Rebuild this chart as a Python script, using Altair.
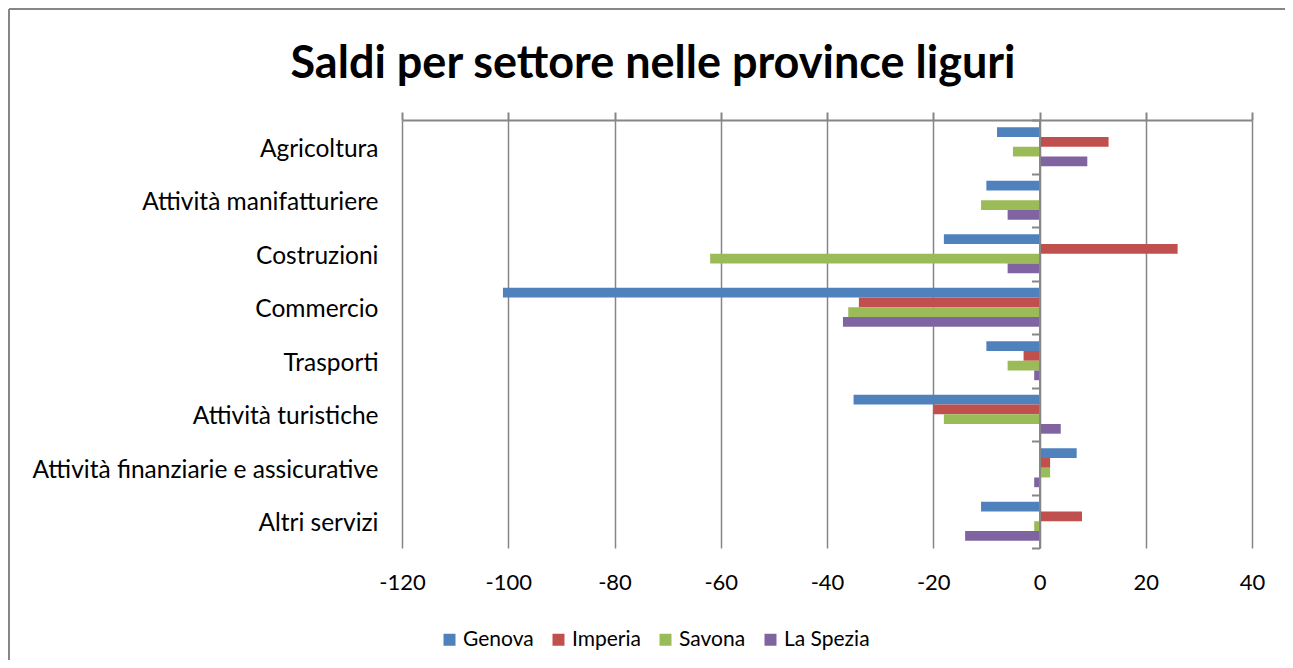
import altair as alt
import pandas as pd

settori = ["Agricoltura", "Attività manifatturiere", "Costruzioni", "Commercio",
           "Trasporti", "Attività turistiche", "Attività finanziarie e assicurative",
           "Altri servizi"]
province = ["Genova", "Imperia", "Savona", "La Spezia"]
colori = ["#4F81BD", "#C0504D", "#9BBB59", "#8064A2"]

genova = [-8, -10, -18, -101, -10, -35, 7, -11]
imperia = [13, 0, 26, -34, -3, -20, 2, 8]
savona = [-5, -11, -62, -36, -6, -18, 2, -1]
la_spezia = [9, -6, -6, -37, -1, 4, -1, -14]

x_ticks = [-120, -100, -80, -60, -40, -20, 0, 20, 40]

serie = {"Genova": genova, "Imperia": imperia, "Savona": savona, "La Spezia": la_spezia}
rows = []
for p in province:
    for s, v in zip(settori, serie[p]):
        rows.append({"settore": s, "provincia": p, "valore": v})
df = pd.DataFrame(rows)

FONT = "Lato"
GRAY = "#868686"

xscale = alt.Scale(domain=[-120, 40], nice=False, zero=False)
yscale = alt.Scale(paddingInner=0, paddingOuter=0)
offscale = alt.Scale(paddingInner=0, paddingOuter=0.75)

base = alt.Chart(df)

bars = base.mark_bar(strokeWidth=0).encode(
    x=alt.X("valore:Q", scale=xscale,
            axis=alt.Axis(orient="bottom", values=x_ticks, title=None, domain=False,
                          ticks=False, grid=True, gridColor=GRAY, gridWidth=1.5,
                          labelFont=FONT, labelFontSize=22, labelColor="#000000",
                          labelPadding=24, labelFlush=False,
                          labelExpr="'' + datum.value")),
    y=alt.Y("settore:N", sort=settori, scale=yscale,
            axis=alt.Axis(orient="left", title=None, domain=False, ticks=False,
                          labelFont=FONT, labelFontSize=24.5, labelColor="#000000",
                          labelPadding=24, labelLimit=420, labelOffset=3)),
    yOffset=alt.YOffset("provincia:N", sort=province, scale=offscale),
    color=alt.Color("provincia:N", sort=province,
                    scale=alt.Scale(domain=province, range=colori),
                    legend=alt.Legend(title=None, orient="none", direction="horizontal",
                                      legendX=37, legendY=509, symbolType="square",
                                      symbolSize=144, symbolStrokeWidth=0,
                                      labelFont=FONT, labelFontSize=21,
                                      labelColor="#000000", labelOffset=3,
                                      columnPadding=14)),
)

axes = base.mark_bar(opacity=0).encode(
    x=alt.X("valore:Q", scale=xscale,
            axis=alt.Axis(orient="top", values=x_ticks, title=None, labels=False,
                          domain=True, domainColor=GRAY, domainWidth=2,
                          ticks=True, tickColor=GRAY, tickWidth=2, tickSize=8,
                          grid=False)),
    y=alt.Y("settore:N", sort=settori, scale=yscale,
            axis=alt.Axis(orient="left", title=None, labels=False, offset=-637.5,
                          domain=True, domainColor=GRAY, domainWidth=2,
                          ticks=True, tickColor=GRAY, tickWidth=2, tickSize=8,
                          tickBand="extent", zindex=1)),
)

border_top = alt.Chart(df).mark_rule(color=GRAY, strokeWidth=2).encode(
    x=alt.value(-393), x2=alt.value(883), y=alt.value(-111))
border_left = alt.Chart(df).mark_rule(color=GRAY, strokeWidth=2).encode(
    x=alt.value(-393), y=alt.value(-111), y2=alt.value(560))

chart = alt.layer(bars, axes, border_top, border_left).resolve_axis(
    x="independent", y="independent"
).properties(
    width=850, height=428,
    autosize=alt.AutoSizeParams(type="none"),
    padding={"left": 394, "top": 112, "right": 33, "bottom": 112},
    title=alt.Title("Saldi per settore nelle province liguri", font=FONT,
                    fontSize=45, fontWeight="bold", color="#000000",
                    anchor="middle", dx=-174, offset=0, dy=79),
).configure_view(stroke=None)

chart.save("out.html", embed_options={"renderer": "svg", "actions": False})
